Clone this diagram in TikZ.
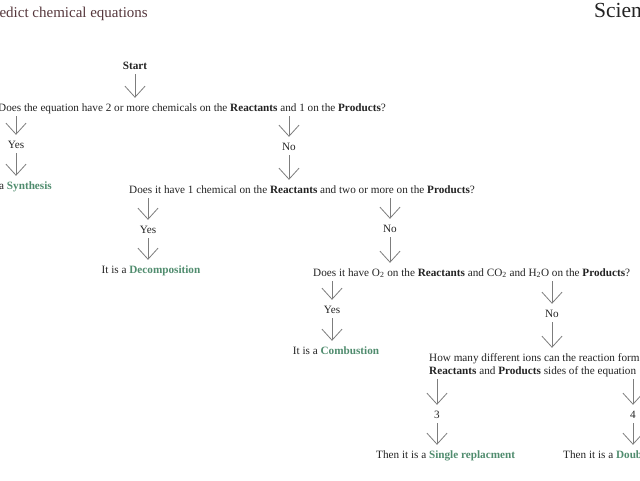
\documentclass[tikz,border=0pt]{standalone}
\usepackage{fontspec}
\setmainfont{Liberation Serif}
\usetikzlibrary{arrows.meta}
\definecolor{txt}{RGB}{35,35,35}
\definecolor{grn}{RGB}{80,140,110}
\definecolor{arrc}{RGB}{125,125,125}
\definecolor{ttl}{RGB}{85,55,60}
\newcommand{\kw}[1]{\textbf{#1}}
\newcommand{\res}[1]{\textbf{\textcolor{grn}{#1}}}
\begin{document}
\begin{tikzpicture}[x=1pt,y=-1pt,
  lbl/.style={anchor=base,inner sep=0pt,text height=7pt,text depth=2pt,font=\fontsize{11.2}{13}\selectfont,text=txt},
  arr/.style={draw=arrc,line width=0.8pt,-{Straight Barb[length=11pt,width=20pt]},shorten <=3pt,shorten >=6pt}]
\useasboundingbox (0,0) rectangle (640,480);
\clip (0,0) rectangle (640,480);
\node[anchor=base east,inner sep=0pt,font=\fontsize{15}{18}\selectfont,text=ttl] (title) at (148,17) {Predict chemical equations};
\node[anchor=base west,inner sep=0pt,font=\fontsize{21.5}{24}\selectfont,text=txt] (sci) at (594,17) {Science};
\node[lbl] (start) at (135,69) {\kw{Start}};
\node[lbl,anchor=base west] (q1) at (-2,111) {Does the equation have 2 or more chemicals on the \kw{Reactants} and 1 on the \kw{Products}?};
\node[lbl] (yes1) at (16,148) {Yes};
\node[lbl,anchor=base east] (syn) at (52,189) {It is a \res{Synthesis}};
\node[lbl] (no1) at (289,150) {No};
\node[lbl,anchor=base west] (q2) at (129,193) {Does it have 1 chemical on the \kw{Reactants} and two or more on the \kw{Products}?};
\node[lbl] (yes2) at (148,233) {Yes};
\node[lbl] (dec) at (151,273) {It is a \res{Decomposition}};
\node[lbl] (no2) at (390,232) {No};
\node[lbl,anchor=base west] (q3) at (313,276) {Does it have O\textsubscript{2} on the \kw{Reactants} and CO\textsubscript{2} and H\textsubscript{2}O on the \kw{Products}?};
\node[lbl] (yes3) at (332,313) {Yes};
\node[lbl] (comb) at (336,354) {It is a \res{Combustion}};
\node[lbl] (no3) at (552,317) {No};
\node[lbl,anchor=base west] (q4a) at (429,361) {How many different ions can the reaction form};
\node[lbl,anchor=base west] (q4b) at (429,374) {\kw{Reactants} and \kw{Products} sides of the equation};
\node[lbl] (three) at (437,418) {3};
\node[lbl,anchor=base west] (single) at (376,458) {Then it is a \res{Single replacment}};
\node[lbl] (four) at (633,418) {4};
\node[lbl,anchor=base west] (double) at (563,458) {Then it is a \res{Double replacement}};
\draw[arr] (start.south) -- (start.south |- q1.north);
\draw[arr] (yes1 |- q1.south) -- (yes1.north);
\draw[arr] (yes1.south) -- (yes1.south |- syn.north);
\draw[arr] (no1 |- q1.south) -- (no1.north);
\draw[arr] (no1.south) -- (no1.south |- q2.north);
\draw[arr] (yes2 |- q2.south) -- (yes2.north);
\draw[arr] (yes2.south) -- (yes2.south |- dec.north);
\draw[arr] (no2 |- q2.south) -- (no2.north);
\draw[arr] (no2.south) -- (no2.south |- q3.north);
\draw[arr] (yes3 |- q3.south) -- (yes3.north);
\draw[arr] (yes3.south) -- (yes3.south |- comb.north);
\draw[arr] (no3 |- q3.south) -- (no3.north);
\draw[arr] (no3.south) -- (no3.south |- q4a.north);
\draw[arr] (three |- q4b.south) -- (three.north);
\draw[arr] (three.south) -- (three.south |- single.north);
\draw[arr] (four |- q4b.south) -- (four.north);
\draw[arr] (four.south) -- (four.south |- double.north);
\end{tikzpicture}
\end{document}
